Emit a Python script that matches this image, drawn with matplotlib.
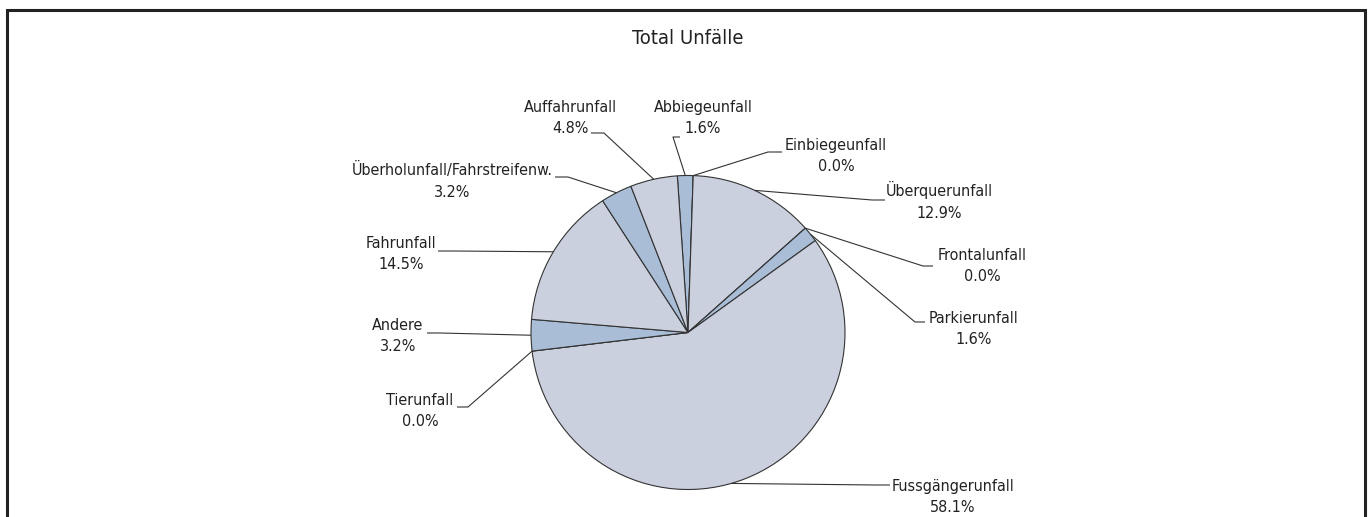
import numpy as np
import matplotlib
matplotlib.use('Agg')
import matplotlib.pyplot as plt
from matplotlib.patches import Rectangle

# Anzahl Unfälle je Typ (Total 62), Reihenfolge im Uhrzeigersinn ab oben
types = ['Abbiegeunfall', 'Einbiegeunfall', 'Überquerunfall', 'Frontalunfall',
         'Parkierunfall', 'Fussgängerunfall', 'Tierunfall', 'Andere',
         'Fahrunfall', 'Überholunfall/Fahrstreifenw.', 'Auffahrunfall']
counts = [1, 0, 8, 0, 1, 36, 0, 2, 9, 2, 3]

LIGHT = '#cbd0df'
DARK = '#a9bdd7'
colors = [DARK, LIGHT, LIGHT, LIGHT, DARK, LIGHT, LIGHT, DARK, LIGHT, DARK, LIGHT]

W, H = 1371, 517
FONT = dict(family='DejaVu Sans', stretch='condensed')

def py(y):
    # Pixel-y (von oben) -> Datenkoordinate
    return H - y

# Label-Layout: Blockmitte, Knickpunkt, Ende der horizontalen Linie (Pixel)
layout = {
    'Abbiegeunfall':               ((703, 118), (673, 137), (680, 137)),
    'Einbiegeunfall':              ((836, 156), (768, 152), (782, 152)),
    'Überquerunfall':              ((939, 201), (872, 200), (885, 200)),
    'Frontalunfall':               ((982, 266), (923, 266), (933, 266)),
    'Parkierunfall':               ((974, 329), (915, 322), (925, 322)),
    'Fussgängerunfall':            ((953, 497), (875, 485), (890, 485)),
    'Tierunfall':                  ((420, 411), (468, 407), (457, 407)),
    'Andere':                      ((398, 336), (440, 333), (427, 333)),
    'Fahrunfall':                  ((401, 254), (452, 251), (438, 251)),
    'Überholunfall/Fahrstreifenw.': ((452, 181), (568, 177), (555, 177)),
    'Auffahrunfall':               ((570, 118), (604, 133), (591, 133)),
}

fig = plt.figure(figsize=(W / 100, H / 100), dpi=100)
ax = fig.add_axes([0, 0, 1, 1])

cx, cy, r = 688, py(332.5), 157
wedges, _ = ax.pie(counts, colors=colors, startangle=93.9, counterclock=False,
                   center=(cx, cy), radius=r,
                   wedgeprops=dict(edgecolor='#333333', linewidth=0.8))

total = sum(counts)
for w, name, n in zip(wedges, types, counts):
    mid = np.deg2rad((w.theta1 + w.theta2) / 2)
    if name == 'Fussgängerunfall':
        mid = np.deg2rad(-74)  # Excel setzt die Linie hier etwas tiefer an
    x0, y0 = cx + r * np.cos(mid), cy + r * np.sin(mid)
    (tx, ty), (ex, ey), (hx, hy) = layout[name]
    ax.plot([x0, ex, hx], [y0, py(ey), py(hy)], color='#333333', lw=0.8,
            solid_capstyle='butt')
    ax.text(tx, py(ty), f'{name}\n{100 * n / total:.1f}%', ha='center',
            va='center', multialignment='center', fontsize=11.5,
            color='#222222', linespacing=1.55, **FONT)

ax.text(688, py(39), 'Total Unfälle', ha='center', va='center', fontsize=14.5,
        color='#222222', **FONT)

# Rahmen
ax.add_patch(Rectangle((7, py(540)), 1357.5, 540 - 10.3, fill=False,
                       edgecolor='#222222', lw=2.2))

ax.set_xlim(0, W)
ax.set_ylim(0, H)
ax.set_aspect('auto')
ax.axis('off')

fig.savefig('out.png', dpi=100, facecolor='white')
